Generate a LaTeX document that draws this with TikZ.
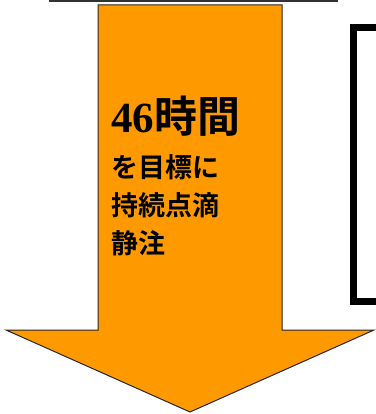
\documentclass[tikz,border=0pt]{standalone}
\usepackage{fontspec}
\newfontfamily\cjk{Noto Sans CJK JP Bold}
\newfontfamily\serifb{Liberation Serif Bold}
\definecolor{arroworange}{HTML}{FF9900}
\tikzset{
  bigarrow/.style={fill=arroworange, draw=black!85, line width=1pt, line join=miter},
  bracketline/.style={draw=black, line width=7pt, line cap=butt, line join=miter},
  labeltext/.style={anchor=north west, inner sep=0pt, align=left}
}
\begin{document}
\begin{tikzpicture}[x=1pt,y=-1pt]
\useasboundingbox (0,0) rectangle (375,414);
% top line
\draw[draw=black!80, line width=2pt] (49,1.5) -- (338,1.5);
% big down arrow
\coordinate (s1) at (98,5);
\coordinate (s2) at (282,5);
\coordinate (s3) at (282,330);
\coordinate (h1) at (374,330);
\coordinate (tip) at (190,412);
\coordinate (h2) at (6,330);
\coordinate (s4) at (98,330);
\path[bigarrow] (s1) -- (s2) -- (s3) -- (h1) -- (tip) -- (h2) -- (s4) -- cycle;
% bracket
\coordinate (b1) at (376,27.5);
\coordinate (b2) at (353,27.5);
\coordinate (b3) at (353,301.5);
\coordinate (b4) at (376,301.5);
\draw[bracketline] (b1) -- (b2) -- (b3) -- (b4);
% text
\node[labeltext, font={\fontsize{43}{46}\selectfont}] (t1) at (111,96) {{\serifb 46}{\cjk 時間}};
\node[labeltext, font={\cjk\fontsize{27}{38}\selectfont}] (t2) at (111,154) {を目標に\\持続点滴\\静注};
\end{tikzpicture}
\end{document}
